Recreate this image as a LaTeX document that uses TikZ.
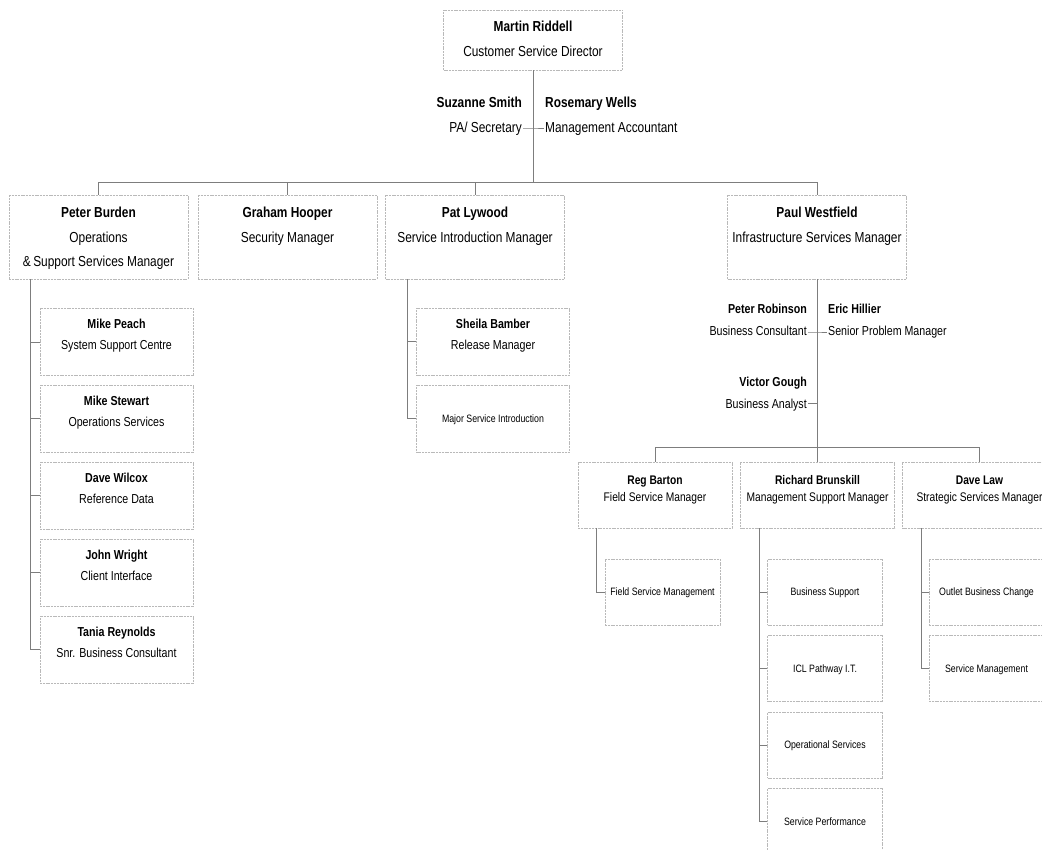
\documentclass[tikz,border=0pt]{standalone}
\usepackage{fontspec}
\setmainfont{Liberation Sans}[FakeStretch=0.82]
\usetikzlibrary{calc}
\definecolor{boxgray}{RGB}{185,185,185}
\definecolor{linegray}{RGB}{125,125,125}
\newcommand\sq{\rule{0pt}{0.75em}}
\begin{document}
\begin{tikzpicture}[x=1pt,y=-1pt,
  orgbox/.style n args={2}{draw=boxgray, dash pattern=on 2pt off 0.8pt, line width=0.8pt, minimum width=#1, minimum height=#2, inner sep=0pt},
  topbox/.style={orgbox={179pt}{60pt}},
  lonebox/.style={orgbox={179pt}{84pt}},
  kidbox/.style={orgbox={153pt}{67pt}},
  ltwobox/.style={orgbox={154pt}{66pt}},
  leafbox/.style={orgbox={115pt}{66pt}},
  conn/.style={draw=linegray, line width=0.9pt},
  tA/.style={font=\fontsize{14.5}{25}\selectfont, align=center, anchor=north, inner sep=0pt},
  tB/.style={font=\fontsize{14.5}{24.5}\selectfont, align=center, anchor=north, inner sep=0pt},
  tAsR/.style={font=\fontsize{14.5}{25}\selectfont, align=right, anchor=north east, inner xsep=1pt, inner ysep=0pt},
  tAsL/.style={font=\fontsize{14.5}{25}\selectfont, align=left, anchor=north west, inner xsep=1pt, inner ysep=0pt},
  tC/.style={font=\fontsize{13}{21}\selectfont, align=center, anchor=north, inner sep=0pt},
  tPR/.style={font=\fontsize{13}{22}\selectfont, align=right, anchor=north east, inner xsep=1pt, inner ysep=0pt},
  tPL/.style={font=\fontsize{13}{22}\selectfont, align=left, anchor=north west, inner xsep=1pt, inner ysep=0pt},
  tD/.style={font=\fontsize{12.5}{17.5}\selectfont, align=center, anchor=north, inner sep=0pt},
  tS/.style={font=\fontsize{10.7}{13}\selectfont, anchor=base, inner sep=0pt}
]
\clip (0,0) rectangle (1042,850);
\fill[white] (0,0) rectangle (1042,850);

% ---- top
\node[topbox] (mr) at (533,40) {};
\node[tA] (mrT) at ($(mr.north)+(0,11.3)$) {\sq\textbf{Martin Riddell}\\Customer Service Director};

\node[tAsR] (ss) at (523,96.3) {\sq\textbf{Suzanne Smith}\\PA/ Secretary};
\node[tAsL] (rw) at (544,96.3) {\sq\textbf{Rosemary Wells}\\Management Accountant};

% ---- level 1
\node[lonebox] (pb) at (98.5,237) {};
\node[tB] (pbT) at ($(pb.north)+(0,12.3)$) {\sq\textbf{Peter Burden}\\Operations\\\&\,Support Services Manager};
\node[lonebox] (gh) at (287.5,237) {};
\node[tB] (ghT) at ($(gh.north)+(0,12.3)$) {\sq\textbf{Graham Hooper}\\Security Manager};
\node[lonebox] (pl) at (475,237) {};
\node[tB] (plT) at ($(pl.north)+(0,12.3)$) {\sq\textbf{Pat Lywood}\\Service Introduction Manager};
\node[lonebox] (pw) at (817,237) {};
\node[tB] (pwT) at ($(pw.north)+(0,12.3)$) {\sq\textbf{Paul Westfield}\\Infrastructure Services Manager};

% ---- Peter Burden's team
\node[kidbox] (mp) at (116.5,342) {};
\node[tC] (mpT) at ($(mp.north)+(0,10.9)$) {\sq\textbf{Mike Peach}\\System Support Centre};
\node[kidbox] (ms) at (116.5,418.5) {};
\node[tC] (msT) at ($(ms.north)+(0,10.9)$) {\sq\textbf{Mike Stewart}\\Operations Services};
\node[kidbox] (dw) at (116.5,495.5) {};
\node[tC] (dwT) at ($(dw.north)+(0,10.9)$) {\sq\textbf{Dave Wilcox}\\Reference Data};
\node[kidbox] (jw) at (116.5,572.5) {};
\node[tC] (jwT) at ($(jw.north)+(0,10.9)$) {\sq\textbf{John Wright}\\Client Interface};
\node[kidbox] (tr) at (116.5,649.5) {};
\node[tC] (trT) at ($(tr.north)+(0,10.9)$) {\sq\textbf{Tania Reynolds}\\Snr. Business Consultant};

% ---- Pat Lywood's team
\node[kidbox] (sb) at (493,341.5) {};
\node[tC] (sbT) at ($(sb.north)+(0,10.9)$) {\sq\textbf{Sheila Bamber}\\Release Manager};
\node[kidbox] (msi) at (493,418.5) {};
\node[tS] (msiT) at ($(msi.center)+(0,3.85)$) {Major Service Introduction};

% ---- Paul Westfield's assistants
\node[tPR] (pr) at (808,304) {\sq\textbf{Peter Robinson}\\Business Consultant};
\node[tPL] (eh) at (827,304) {\sq\textbf{Eric Hillier}\\Senior Problem Manager};
\node[tPR] (vg) at (808,377) {\sq\textbf{Victor Gough}\\Business Analyst};

% ---- level 2
\node[ltwobox] (rb) at (655,495) {};
\node[tD] (rbT) at ($(rb.north)+(0,13.1)$) {\sq\textbf{Reg Barton}\\Field Service Manager};
\node[ltwobox] (rk) at (817.5,495) {};
\node[tD] (rkT) at ($(rk.north)+(0,13.1)$) {\sq\textbf{Richard Brunskill}\\Management Support Manager};
\node[ltwobox] (dl) at (979.5,495) {};
\node[tD] (dlT) at ($(dl.north)+(0,13.1)$) {\sq\textbf{Dave Law}\\Strategic Services Manager};

% ---- level 3
\node[leafbox] (fsm) at (662.5,592) {};
\node[tS] (fsmT) at ($(fsm.center)+(0,3.85)$) {Field Service Management};
\node[leafbox] (bs) at (825,592) {};
\node[tS] (bsT) at ($(bs.center)+(0,3.85)$) {Business Support};
\node[leafbox] (icl) at (825,668.5) {};
\node[tS] (iclT) at ($(icl.center)+(0,3.85)$) {ICL Pathway I.T.};
\node[leafbox] (ops) at (825,745) {};
\node[tS] (opsT) at ($(ops.center)+(0,3.85)$) {Operational Services};
\node[leafbox] (sp) at (825,821.5) {};
\node[tS] (spT) at ($(sp.center)+(0,3.85)$) {Service Performance};
\node[leafbox] (obc) at (986.5,592) {};
\node[tS] (obcT) at ($(obc.center)+(0,3.85)$) {Outlet Business Change};
\node[leafbox] (sm) at (986.5,668.5) {};
\node[tS] (smT) at ($(sm.center)+(0,3.85)$) {Service Management};

% ---- connectors
\coordinate (bus1) at (533,182);
\coordinate (a1) at (533,128);
\draw[conn] (mr.south) -- (bus1);
\draw[conn] (ss.east |- a1) -- (a1) -- (rw.west |- a1);
\draw[conn] (pb.north) |- (bus1);
\draw[conn] (gh.north) |- (bus1);
\draw[conn] (pl.north) |- (bus1);
\draw[conn] (pw.north) |- (bus1);

\coordinate (pbx) at ($(pb.south west)+(22,0)$);
\foreach \k in {mp,ms,dw,jw,tr} \draw[conn] (pbx) |- (\k.west);
\coordinate (plx) at ($(pl.south west)+(22,0)$);
\foreach \k in {sb,msi} \draw[conn] (plx) |- (\k.west);

\coordinate (bus2) at (817,447);
\coordinate (p1) at (817,332);
\coordinate (p2) at (817,403);
\draw[conn] (pw.south) -- (bus2);
\draw[conn] (pr.east |- p1) -- (p1) -- (eh.west |- p1);
\draw[conn] (vg.east |- p2) -- (p2);
\draw[conn] (rb.north) |- (bus2);
\draw[conn] (rk.north) |- (bus2);
\draw[conn] (dl.north) |- (bus2);

\coordinate (rbx) at ($(rb.south west)+(19,0)$);
\draw[conn] (rbx) |- (fsm.west);
\coordinate (rkx) at ($(rk.south west)+(19,0)$);
\foreach \k in {bs,icl,ops,sp} \draw[conn] (rkx) |- (\k.west);
\coordinate (dlx) at ($(dl.south west)+(19,0)$);
\foreach \k in {obc,sm} \draw[conn] (dlx) |- (\k.west);
\end{tikzpicture}
\end{document}
